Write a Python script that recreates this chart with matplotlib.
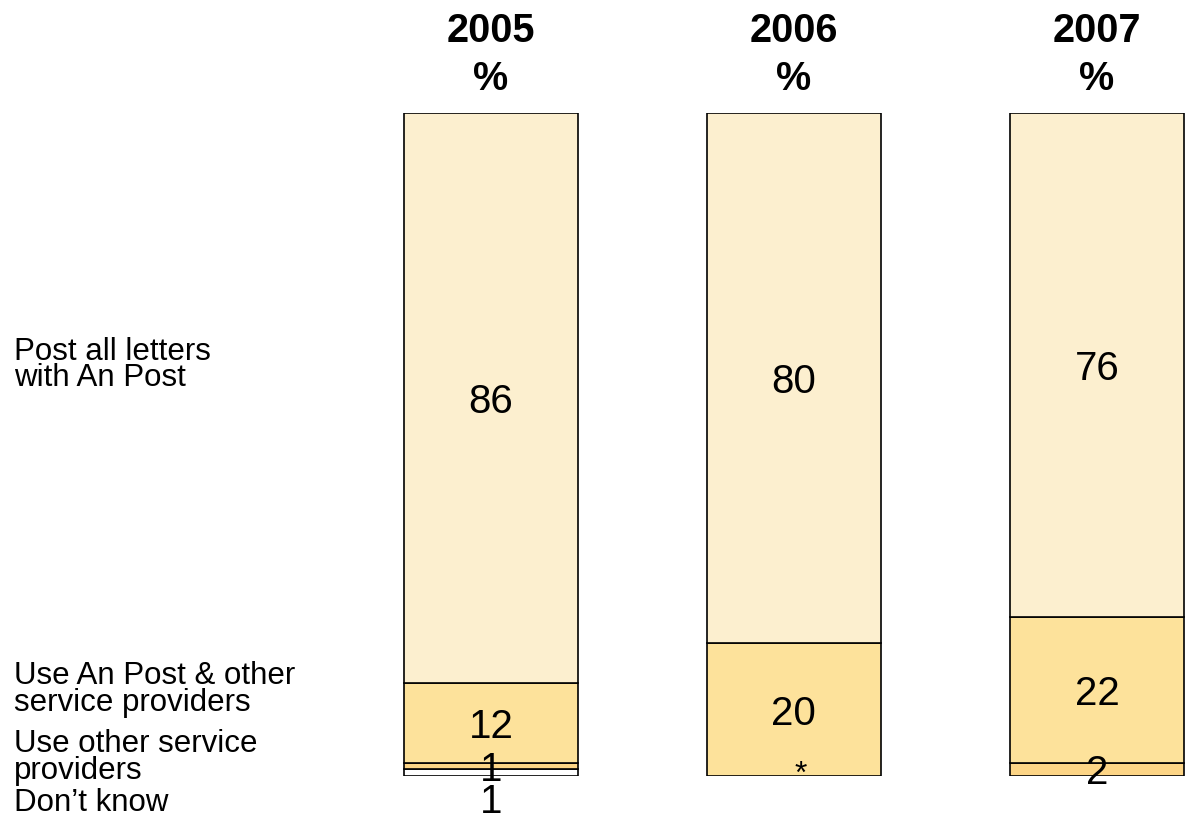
import os
import matplotlib.pyplot as plt
import matplotlib.transforms as mtransforms
from matplotlib import font_manager
import numpy as np

# pick the regular Liberation Sans files (not the Narrow ones)
reg_path, bold_path = None, None
for f in font_manager.findSystemFonts():
    name = os.path.basename(f)
    if name == 'LiberationSans-Regular.ttf':
        reg_path = f
    elif name == 'LiberationSans-Bold.ttf':
        bold_path = f
fp = font_manager.FontProperties(fname=reg_path) if reg_path else font_manager.FontProperties(family='DejaVu Sans')
fpb = font_manager.FontProperties(fname=bold_path) if bold_path else font_manager.FontProperties(family='DejaVu Sans', weight='bold')

years = ['2005', '2006', '2007']
post_all = [86, 80, 76]
both = [12, 20, 22]
other = [1, 0, 2]
dont_know = [1, 0, 0]
post_all_lbl = ['86', '80', '76']
both_lbl = ['12', '20', '22']
other_lbl = ['1', '*', '2']
dont_know_lbl = ['1', '', '']

row_names = ['Post all letters\nwith An Post',
             'Use An Post & other\nservice providers',
             'Use other service\nproviders',
             'Don\u2019t know']
row_y = [62.0, 13.1, 2.8, -4.1]

c_top = '#FCEFCF'
c_mid = '#FDE29B'
c_low = '#FDD586'
c_dk = '#FFFFFF'

fig = plt.figure(figsize=(11.91, 8.19), dpi=100)
ax = fig.add_axes([0.285, 0.0525, 0.7123, 0.8095])
x = np.arange(len(years))
w = 0.574

b0 = np.zeros(3)
b1 = b0 + np.array(dont_know)
b2 = b1 + np.array(other)
b3 = b2 + np.array(both)
kw = dict(width=w, edgecolor='black', linewidth=1.2)
ax.bar(x, dont_know, bottom=b0, color=c_dk, **kw)
ax.bar(x, other, bottom=b1, color=c_low, **kw)
ax.bar(x, both, bottom=b2, color=c_mid, **kw)
ax.bar(x, post_all, bottom=b3, color=c_top, **kw)

fs = 29
dy = -0.6  # nudge digits so the glyphs sit on the segment middle
for i in range(3):
    ax.text(x[i], b3[i] + post_all[i] / 2 + dy, post_all_lbl[i], ha='center', va='center',
            fontproperties=fp, fontsize=fs)
    ax.text(x[i], b2[i] + both[i] / 2 + dy, both_lbl[i], ha='center', va='center',
            fontproperties=fp, fontsize=fs)
    if other_lbl[i] == '*':
        ax.text(x[i] + 0.022, b1[i] + 0.2, other_lbl[i], ha='center', va='center',
                fontproperties=fp, fontsize=23)
    else:
        ax.text(x[i], b1[i] + other[i] / 2 + dy, other_lbl[i], ha='center', va='center',
                fontproperties=fp, fontsize=fs)
    if dont_know_lbl[i]:
        ax.text(x[i], -3.9, dont_know_lbl[i], ha='center', va='center',
                fontproperties=fp, fontsize=fs)
    ax.text(x[i], 110.7, years[i], ha='center', va='baseline', fontproperties=fpb, fontsize=28.5)
    ax.text(x[i], 103.5, '%', ha='center', va='baseline', fontproperties=fpb, fontsize=28.5)

trans = mtransforms.blended_transform_factory(fig.transFigure, ax.transData)
for name, yy in zip(row_names, row_y):
    fig.text(14 / 1191, yy, name, transform=trans, ha='left', va='center',
             fontproperties=fp, fontsize=22.5, linespacing=0.86)

ax.set_xlim(-0.5, 2.3)
ax.set_ylim(0, 100)
ax.axis('off')

fig.savefig('out.png', dpi=100)
